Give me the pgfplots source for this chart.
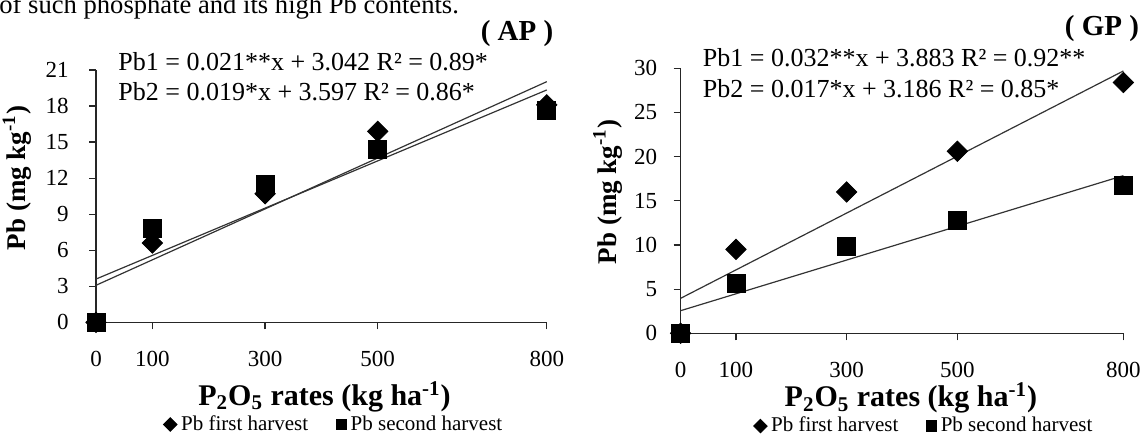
\documentclass[border=0pt]{standalone}
\usepackage{pgfplots}
\pgfplotsset{compat=1.18}
\usepackage{fontspec}
\setmainfont{Liberation Serif}
\pgfplotstableread{
x y1 y2
0 0 0
100 6.6 7.8
300 10.7 11.5
500 15.9 14.4
800 18.1 17.65
}\APdata
\pgfplotstableread{
x y1 y2
0 0 0
100 9.5 5.7
300 16.0 9.8
500 20.6 12.8
800 28.4 16.7
}\GPdata
\pgfplotsset{
  common/.style={
    scale only axis, clip=false,
    axis x line*=bottom, axis y line*=left,
    axis line style={line width=0.6pt, black!85},
    xmin=0, xmax=800, ymin=0,
    xtick={0,100,300,500,800},
    tick align=outside, major tick length=3.5pt,
    tick style={line width=0.6pt, black!85},
    /pgf/number format/assume math mode=true,
    tick label style={font=\fontsize{11.5}{13}\selectfont},
    xticklabel style={yshift=-7.5pt},
    xlabel style={font=\fontsize{15}{17}\selectfont\bfseries},
    ylabel style={font=\fontsize{13.5}{15}\selectfont\bfseries},
    xlabel={P\textsubscript{2}O\textsubscript{5} rates (kg ha\textsuperscript{-1})},
    ylabel={Pb (mg kg\textsuperscript{-1})},
    legend columns=2,
    legend style={draw=none, fill=none, font=\fontsize{10.5}{12}\selectfont, inner sep=0pt, /tikz/every even column/.append style={column sep=12pt}},
    legend cell align=left,
  },
  diam/.style={only marks, mark=square*, mark size=3.6pt, mark options={rotate=45, black, fill=black}, legend image post style={mark size=2.4pt}},
  sq/.style={only marks, mark=square*, mark size=4.5pt, mark options={black, fill=black}, legend image post style={mark size=2.6pt}},
  fit/.style={no marks, line width=0.6pt, black!80, forget plot},
}
\newcommand{\eqfont}{\fontsize{13}{15}\selectfont}
\begin{document}
\begin{tikzpicture}
\useasboundingbox (0,0) rectangle (573pt,218pt);
\node[anchor=base west, font=\fontsize{13.3}{15}\selectfont, inner sep=0pt] at (-0.5pt,211.5pt) {of such phosphate and its high Pb contents.};
% Left (AP)
\begin{axis}[common,
  at={(48pt,56.85pt)}, anchor=origin,
  width=225.4pt, height=126.15pt,
  ymax=21, ytick={0,3,6,9,12,15,18,21},
  yticklabel style={xshift=-6.7pt},
  xlabel style={at={(axis description cs:0.507,-0.33)}, anchor=base},
  ylabel style={at={(axis description cs:-0.175,0.572)}, anchor=center},
  legend style={at={(axis description cs:0.53,-0.405)}, anchor=center},
]
\addplot[fit] coordinates {(0,3.08) (800,20.03)};
\addplot[fit] coordinates {(0,3.6) (800,19.34)};
\addplot[diam] table[x=x,y=y1] {\APdata};
\addlegendentry{Pb first harvest}
\addplot[sq] table[x=x,y=y2] {\APdata};
\addlegendentry{Pb second harvest}
\end{axis}
\node[anchor=base west, font=\eqfont, inner sep=0pt] at (59pt,183pt) {Pb1 = 0.021**x + 3.042 R² = 0.89*};
\node[anchor=base west, font=\eqfont, inner sep=0pt] at (59pt,167.65pt) {Pb2 = 0.019*x + 3.597 R² = 0.86*};
\node[anchor=base, font=\fontsize{14.5}{16}\selectfont\bfseries, inner sep=0pt] at (258.5pt,198pt) {( AP )};
% Right (GP)
\begin{axis}[common,
  at={(340.3pt,51.35pt)}, anchor=origin,
  width=221.4pt, height=132.5pt,
  ymax=30, ytick={0,5,10,15,20,25,30},
  yticklabel style={xshift=-4.7pt},
  xlabel style={at={(axis description cs:0.52,-0.278)}, anchor=base},
  ylabel style={at={(axis description cs:-0.165,0.533)}, anchor=center},
  legend style={at={(axis description cs:0.552,-0.35)}, anchor=center},
]
\addplot[fit] coordinates {(0,3.96) (800,29.7)};
\addplot[fit] coordinates {(0,2.56) (800,17.85)};
\addplot[diam] table[x=x,y=y1] {\GPdata};
\addlegendentry{Pb first harvest}
\addplot[sq] table[x=x,y=y2] {\GPdata};
\addlegendentry{Pb second harvest}
\end{axis}
\node[anchor=base west, font=\eqfont, inner sep=0pt] at (351.25pt,185pt) {Pb1 = 0.032**x + 3.883 R² = 0.92**};
\node[anchor=base west, font=\eqfont, inner sep=0pt] at (351.25pt,169.35pt) {Pb2 = 0.017*x + 3.186 R² = 0.85*};
\node[anchor=base, font=\fontsize{14.5}{16}\selectfont\bfseries, inner sep=0pt] at (551pt,200.5pt) {( GP )};
\end{tikzpicture}
\end{document}
